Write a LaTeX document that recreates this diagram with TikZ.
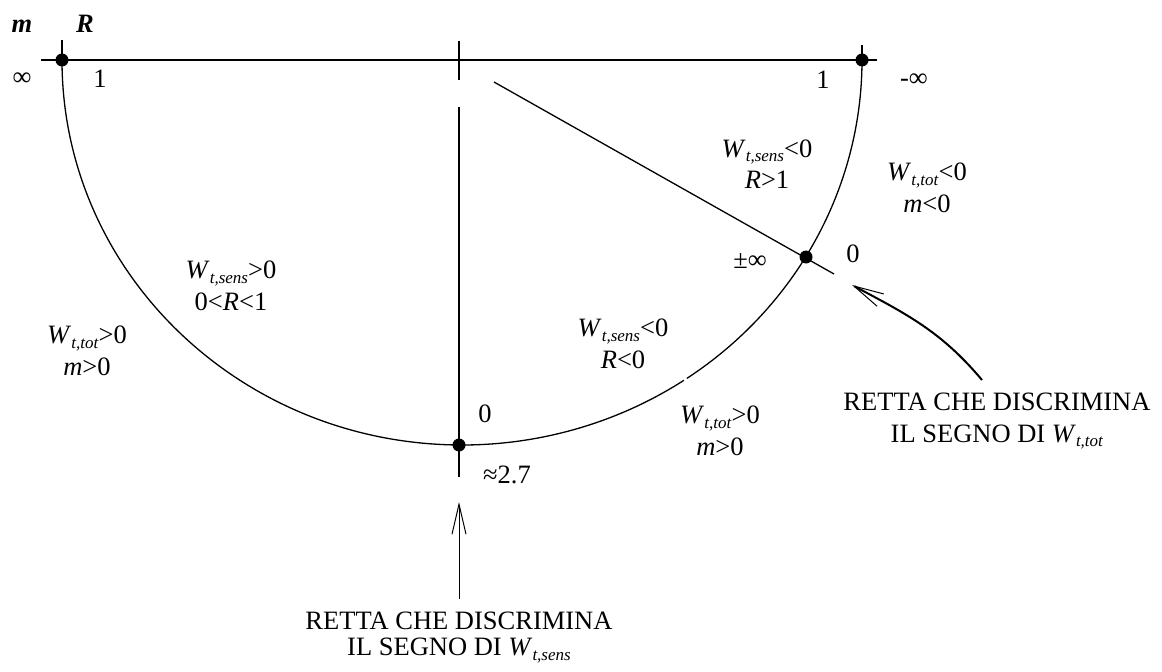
\documentclass[tikz,border=0pt]{standalone}
\usepackage{fontspec}
\setmainfont{Liberation Serif}
\usepackage{tikz}
\usetikzlibrary{arrows.meta}

\newcommand{\Wsub}[1]{\textit{W}\raisebox{-2.3pt}{\fontsize{8.5}{9}\selectfont\textit{#1}}}

\begin{document}
\begin{tikzpicture}[
    x=0.5pt, y=0.5pt,
    lbl/.style={
        align=center,
        inner sep=0pt,
        font=\fontsize{13.25}{15.75}\selectfont
    },
    dot/.style={
        circle,
        fill,
        inner sep=0pt,
        minimum size=6.5pt
    },
    line/.style={line width=0.65pt},
    arrow/.style={-{Straight Barb[length=15pt,width=7pt,line width=0.5pt]}}
]
\useasboundingbox (0,0) rectangle (1162,671);

% --- punti notevoli ---
\coordinate (C) at (462,611);
\node[dot] (dotL) at (62,611) {};
\node[dot] (dotR) at (862,611) {};
\node[dot] (dotB) at (459,226) {};
\node[dot] (dotS) at (806,414) {};

% --- asse orizzontale e tacche ---
\draw[line] (41,611) -- (877,611);
\draw[line] (dotL.center) -- ++(0,20);
\draw[line] (dotR.center) -- ++(0,15);

% --- semi-ellisse (con piccola interruzione) ---
\draw[line] (dotL.center) arc[start angle=180, end angle=303.7, x radius=400, y radius=385];
\draw[line] ([shift={(C)}]304.2:400 and 385) arc[start angle=304.2, end angle=360, x radius=400, y radius=385];

% --- retta verticale (segno di W_t,sens) ---
\draw[line] (459,630) -- (459,591);
\draw[line] (459,564) -- (459,194);

% --- retta obliqua (segno di W_t,tot) ---
\draw[line] (494,589) -- (834,397);

% --- etichette in alto ---
\node[lbl, anchor=base, font=\fontsize{13.25}{15.75}\selectfont\bfseries\itshape] (labm) at (22,638) {m};
\node[lbl, anchor=base, font=\fontsize{13.25}{15.75}\selectfont\bfseries\itshape] (labR) at (85,638) {R};
\node[lbl] (infL) at (22,592) {∞};
\node[lbl] (oneL) at (100,592) {1};
\node[lbl] (oneR) at (823,591) {1};
\node[lbl] (infR) at (914,591) {-∞};

% --- regioni ---
\node[lbl] (regA) at (767,507) {\Wsub{t,sens}<0\\\textit{R}>1};
\node[lbl] (regB) at (927,483) {\Wsub{t,tot}<0\\\textit{m}<0};
\node[lbl] (regC) at (231,385) {\Wsub{t,sens}>0\\0<\textit{R}<1};
\node[lbl] (regD) at (87,320)  {\Wsub{t,tot}>0\\\textit{m}>0};
\node[lbl] (regE) at (623,327) {\Wsub{t,sens}<0\\\textit{R}<0};
\node[lbl] (regF) at (720,240) {\Wsub{t,tot}>0\\\textit{m}>0};

% --- valori sui punti ---
\node[lbl] (pinf) at (750,410) {±∞};
\node[lbl] (zeroS) at (853,417) {0};
\node[lbl] (zeroB) at (485,257) {0};
\node[lbl] (e27) at (507,196) {≈2.7};

% --- didascalie con frecce ---
\coordinate (tipS) at (459,169);
\coordinate (tipT) at (852,386);
\node[lbl, anchor=north, outer sep=6.5pt, font=\fontsize{13.25}{13}\selectfont] (rettaS) at (459,72)
{RETTA CHE DISCRIMINA\\IL SEGNO DI \Wsub{t,sens}};
\node[lbl, anchor=north, outer sep=6.5pt] (rettaT) at (997,291)
{RETTA CHE DISCRIMINA\\IL SEGNO DI \Wsub{t,tot}};

\draw[line width=0.5pt, arrow] (rettaS.north) -- (tipS);
\draw[line width=1pt, arrow] ([xshift=-7.5pt]rettaT.north) to[out=130,in=-28] (tipT);

\end{tikzpicture}
\end{document}
